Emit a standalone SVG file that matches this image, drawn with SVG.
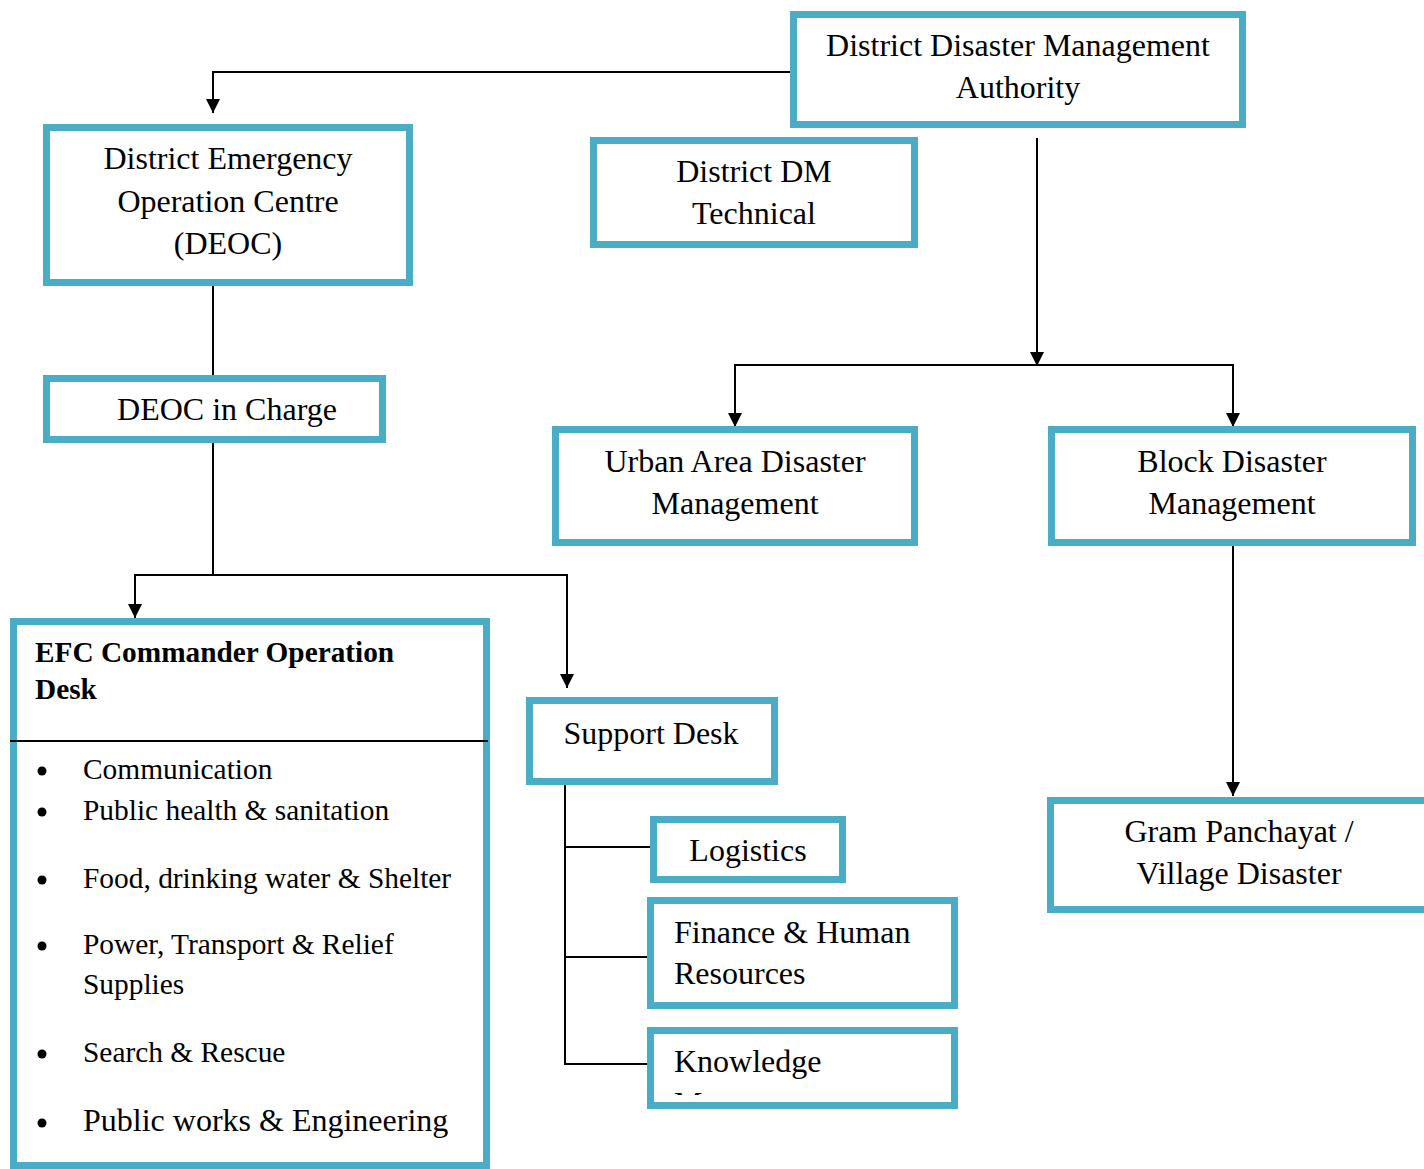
<svg xmlns="http://www.w3.org/2000/svg" width="1424" height="1169" viewBox="0 0 1424 1169">
  <style>
    .box { fill: #ffffff; stroke: #4bacc6; stroke-width: 7; }
    .t { font-family: "Liberation Serif", "Times New Roman", serif; font-size: 32px; fill: #000; }
    .c { text-anchor: middle; }
    .b { font-weight: bold; font-size: 29.3px; }
    .s { font-size: 29.4px; }
    .link { fill: none; stroke: #000; stroke-width: 2; }
  </style>
  <defs>
    <marker id="arrow" markerUnits="userSpaceOnUse" markerWidth="15" markerHeight="15" refX="14" refY="7" orient="auto">
      <path d="M0,0 L14,7 L0,14 z" fill="#000"/>
    </marker>
    <clipPath id="knowClip">
      <rect x="654" y="1034" width="297" height="61"/>
    </clipPath>
  </defs>
  <rect width="1424" height="1169" fill="#ffffff"/>

  <!-- connectors -->
  <g id="connectors">
    <path class="link" d="M794,76 V72 H213 V113" marker-end="url(#arrow)"/>
    <path class="link" d="M213,286 V376"/>
    <path class="link" d="M213,443 V575"/>
    <path class="link" d="M213,575 H135 V618" marker-end="url(#arrow)"/>
    <path class="link" d="M213,575 H567 V688" marker-end="url(#arrow)"/>
    <path class="link" d="M1037,138 V366" marker-end="url(#arrow)"/>
    <path class="link" d="M1037,365 H735 V427" marker-end="url(#arrow)"/>
    <path class="link" d="M1037,365 H1233 V427" marker-end="url(#arrow)"/>
    <path class="link" d="M1233,546 V796" marker-end="url(#arrow)"/>
    <path class="link" d="M565,785 V1064 H648"/>
    <path class="link" d="M565,847 H650"/>
    <path class="link" d="M565,957 H648"/>
  </g>

  <!-- District Disaster Management Authority -->
  <g id="ddma">
    <rect class="box" x="793.5" y="14.5" width="449" height="110"/>
    <text class="t c" x="1018" y="56">District Disaster Management</text>
    <text class="t c" x="1018" y="98">Authority</text>
  </g>

  <!-- District Emergency Operation Centre -->
  <g id="deoc">
    <rect class="box" x="46.5" y="127.5" width="363" height="155"/>
    <text class="t c" x="228" y="169">District Emergency</text>
    <text class="t c" x="228" y="212">Operation Centre</text>
    <text class="t c" x="228" y="254">(DEOC)</text>
  </g>

  <!-- District DM Technical -->
  <g id="dm-technical">
    <rect class="box" x="593.5" y="140.5" width="321" height="104"/>
    <text class="t c" x="754" y="182">District DM</text>
    <text class="t c" x="754" y="224">Technical</text>
  </g>

  <!-- DEOC in Charge -->
  <g id="deoc-charge">
    <rect class="box" x="46.5" y="378.5" width="336" height="61"/>
    <text class="t c" x="227" y="420">DEOC in Charge</text>
  </g>

  <!-- Urban Area Disaster Management -->
  <g id="urban">
    <rect class="box" x="555.5" y="429.5" width="359" height="113"/>
    <text class="t c" x="735" y="472">Urban Area Disaster</text>
    <text class="t c" x="735" y="514">Management</text>
  </g>

  <!-- Block Disaster Management -->
  <g id="block">
    <rect class="box" x="1051.5" y="429.5" width="361" height="113"/>
    <text class="t c" x="1232" y="472">Block Disaster</text>
    <text class="t c" x="1232" y="514">Management</text>
  </g>

  <!-- Gram Panchayat / Village Disaster -->
  <g id="gram">
    <rect class="box" x="1050.5" y="800.5" width="400" height="109"/>
    <text class="t c" x="1239" y="842">Gram Panchayat /</text>
    <text class="t c" x="1239" y="884">Village Disaster</text>
  </g>

  <!-- EFC Commander Operation Desk -->
  <g id="efc">
    <rect class="box" x="13.5" y="621.5" width="473" height="544"/>
    <text class="t b" x="35" y="662">EFC Commander Operation</text>
    <text class="t b" x="35" y="699">Desk</text>
    <line x1="10" y1="741" x2="488" y2="741" stroke="#000" stroke-width="2"/>
    <g fill="#000">
      <circle cx="42" cy="771" r="4.5"/>
      <circle cx="42" cy="812" r="4.5"/>
      <circle cx="42" cy="880" r="4.5"/>
      <circle cx="42" cy="946" r="4.5"/>
      <circle cx="42" cy="1054" r="4.5"/>
      <circle cx="42" cy="1123" r="4.5"/>
    </g>
    <text class="t s" x="83" y="779">Communication</text>
    <text class="t s" x="83" y="820">Public health &amp; sanitation</text>
    <text class="t s" x="83" y="888">Food, drinking water &amp; Shelter</text>
    <text class="t s" x="83" y="954">Power, Transport &amp; Relief</text>
    <text class="t s" x="83" y="994">Supplies</text>
    <text class="t s" x="83" y="1062">Search &amp; Rescue</text>
    <text class="t" x="83" y="1131">Public works &amp; Engineering</text>
  </g>

  <!-- Support Desk -->
  <g id="support">
    <rect class="box" x="529.5" y="700.5" width="245" height="81"/>
    <text class="t c" x="651" y="744">Support Desk</text>
  </g>

  <!-- Logistics -->
  <g id="logistics">
    <rect class="box" x="653.5" y="819.5" width="189" height="60"/>
    <text class="t c" x="748" y="861">Logistics</text>
  </g>

  <!-- Finance & Human Resources -->
  <g id="finance">
    <rect class="box" x="650.5" y="900.5" width="304" height="105"/>
    <text class="t" x="674" y="943">Finance &amp; Human</text>
    <text class="t" x="674" y="984">Resources</text>
  </g>

  <!-- Knowledge Management (second line cut off by the box) -->
  <g id="knowledge">
    <rect class="box" x="650.5" y="1030.5" width="304" height="75"/>
    <g clip-path="url(#knowClip)">
      <text class="t" x="674" y="1072">Knowledge</text>
      <text class="t" x="674" y="1114">Management</text>
    </g>
  </g>
</svg>
